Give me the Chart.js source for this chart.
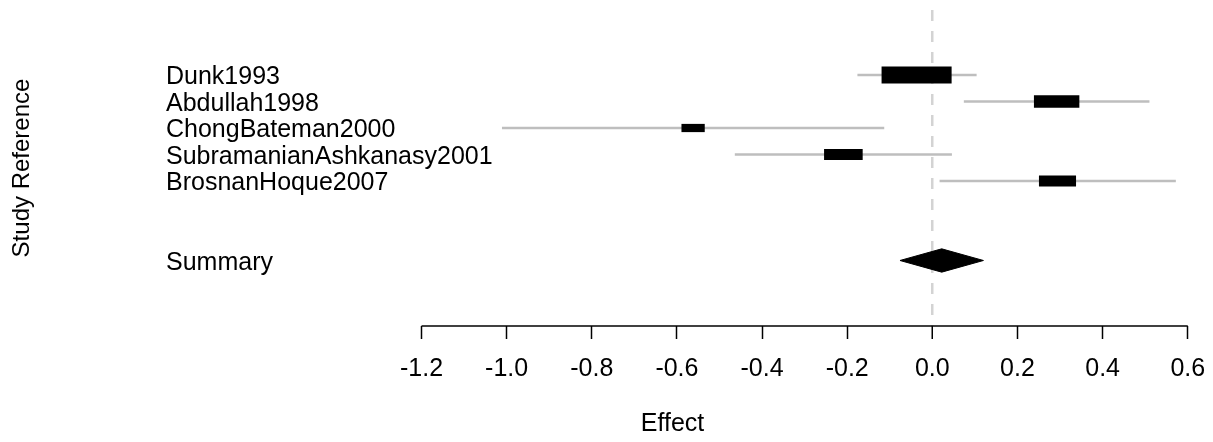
<!DOCTYPE html>
<html>
<head>
<meta charset="utf-8">
<script src="https://cdn.jsdelivr.net/npm/chart.js@4.4.0/dist/chart.umd.min.js"></script>
<style>
  html, body { margin: 0; padding: 0; background: #ffffff; overflow: hidden; }
  #wrap { width: 1213px; height: 442px; }
  canvas { display: block; }
</style>
</head>
<body>
<div id="wrap"><canvas id="c" width="1213" height="442"></canvas></div>
<script>
// ---------------- data ----------------
const studies = ['Dunk1993', 'Abdullah1998', 'ChongBateman2000', 'SubramanianAshkanasy2001', 'BrosnanHoque2007'];
const estimates = [-0.037, 0.292, -0.562, -0.209, 0.294];
const lowerCI   = [-0.176, 0.074, -1.011, -0.464, 0.017];
const upperCI   = [ 0.104, 0.510, -0.113,  0.046, 0.572];
const boxWeights = [1.0, 0.645, 0.326, 0.547, 0.525];   // relative box size
const summaryLabel = 'Summary';
const summaryEstimate = [0.022];
const summaryLower = [-0.076];
const summaryUpper = [0.120];
const xTickValues = [-1.2, -1.0, -0.8, -0.6, -0.4, -0.2, 0.0, 0.2, 0.4, 0.6];
const xTitle = 'Effect';
const yTitle = 'Study Reference';

// ---------------- layout / style ----------------
const FONT = "'Liberation Sans', Arial, Helvetica, sans-serif";
const rows = studies.map((_, i) => i + 1);
const summaryRow = studies.length + 3;
const yMin = -1.453, yMax = 10.472;
const xMin = -1.8801, xMax = 0.6593;
const boxFullWidth = 0.163;                 // effect units at weight 1
const boxHeightPx = w => 3.3 + 13.1 * w;
const diamondHalfHeight = 0.44;             // in row units
const ciColor = '#bebebe';
const zeroColor = '#d3d3d3';

const rowLabels = {};
rows.forEach((r, i) => { rowLabels[r] = studies[i]; });
rowLabels[summaryRow] = summaryLabel;

const datasets = [];

// boxes (drawn on top)
studies.forEach((s, i) => {
  const hw = boxWeights[i] * boxFullWidth / 2;
  datasets.push({
    type: 'bar',
    label: s + ' box',
    indexAxis: 'y',
    grouped: false,
    categoryPercentage: 1,
    barPercentage: 1,
    maxBarThickness: boxHeightPx(boxWeights[i]),
    backgroundColor: '#000000',
    borderWidth: 0,
    order: 0,
    data: [{ x: [estimates[i] - hw, estimates[i] + hw], y: rows[i] }]
  });
});

// summary diamond
datasets.push({
  type: 'line',
  label: 'summary',
  data: [
    { x: summaryLower[0], y: summaryRow },
    { x: summaryEstimate[0], y: summaryRow - diamondHalfHeight },
    { x: summaryUpper[0], y: summaryRow },
    { x: summaryEstimate[0], y: summaryRow + diamondHalfHeight },
    { x: summaryLower[0], y: summaryRow }
  ],
  borderColor: '#000000',
  backgroundColor: '#000000',
  borderWidth: 1,
  fill: 'shape',
  pointRadius: 0,
  tension: 0,
  order: 0
});

// confidence interval lines
studies.forEach((s, i) => {
  datasets.push({
    type: 'line',
    label: s + ' CI',
    data: [{ x: lowerCI[i], y: rows[i] }, { x: upperCI[i], y: rows[i] }],
    borderColor: ciColor,
    borderWidth: 2.5,
    pointRadius: 0,
    fill: false,
    order: 1
  });
});

// x axis line spanning the tick range
datasets.push({
  type: 'line',
  label: 'axis',
  data: [{ x: xTickValues[0], y: yMax }, { x: xTickValues[xTickValues.length - 1], y: yMax }],
  borderColor: '#000000',
  borderWidth: 1.5,
  pointRadius: 0,
  fill: false,
  clip: false,
  order: 2
});

new Chart(document.getElementById('c'), {
  type: 'scatter',
  data: { datasets },
  options: {
    responsive: false,
    animation: false,
    devicePixelRatio: 1,
    events: [],
    layout: { padding: { top: 10, left: 0, right: 0, bottom: 0 } },
    plugins: { legend: { display: false }, tooltip: { enabled: false } },
    scales: {
      x: {
        type: 'linear',
        position: 'bottom',
        offset: false,
        beginAtZero: false,
        min: xMin,
        max: xMax,
        afterBuildTicks: (axis) => { axis.ticks = xTickValues.map(v => ({ value: v })); },
        afterFit: (axis) => { axis.height = 116; axis.paddingLeft = 0; axis.paddingRight = 0; },
        border: { display: false, dash: [11, 10] },
        grid: {
          display: true,
          offset: false,
          drawOnChartArea: true,
          drawTicks: true,
          tickLength: 13,
          tickColor: '#000000',
          tickWidth: 1.5,
          color: (ctx) => (ctx.tick && ctx.tick.value === 0) ? zeroColor : 'rgba(0,0,0,0)',
          lineWidth: (ctx) => (ctx.tick && ctx.tick.value === 0) ? 2.5 : 1
        },
        ticks: {
          autoSkip: false,
          maxRotation: 0,
          minRotation: 0,
          padding: 15,
          color: '#000000',
          font: { family: FONT, size: 25, lineHeight: 1.2 },
          callback: (v) => Number(v).toFixed(1)
        },
        title: {
          display: true,
          text: xTitle,
          color: '#000000',
          font: { family: FONT, size: 25, lineHeight: 1.2 },
          padding: { top: 23, bottom: 3 }
        }
      },
      y: {
        type: 'linear',
        position: 'left',
        offset: false,
        beginAtZero: false,
        reverse: true,
        min: yMin,
        max: yMax,
        afterBuildTicks: (axis) => { axis.ticks = rows.concat([summaryRow]).map(v => ({ value: v })); },
        afterFit: (axis) => { axis.width = 132; axis.paddingTop = 0; axis.paddingBottom = 0; },
        border: { display: false },
        grid: { display: false, offset: false },
        ticks: {
          mirror: true,
          padding: 34,
          labelOffset: 2.5,
          autoSkip: false,
          color: '#000000',
          font: { family: FONT, size: 25, lineHeight: 1.2 },
          callback: (v) => rowLabels[v] || ''
        },
        title: {
          display: true,
          text: yTitle,
          color: '#000000',
          font: { family: FONT, size: 24, lineHeight: 1.2 },
          padding: { top: 8, bottom: 0 }
        }
      }
    }
  }
});
</script>
</body>
</html>
